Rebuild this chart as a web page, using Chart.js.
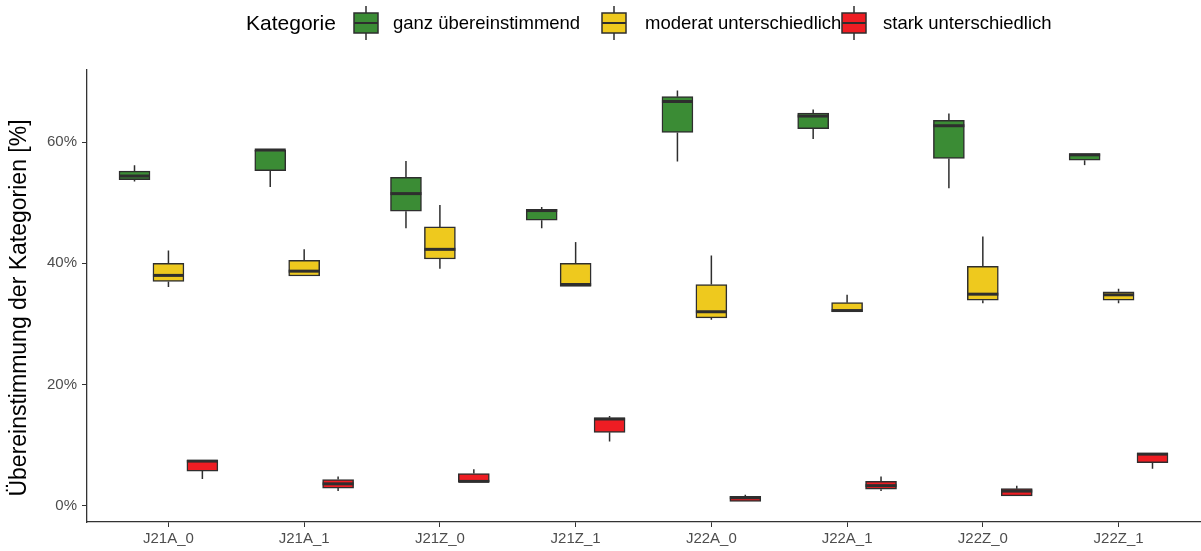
<!DOCTYPE html>
<html>
<head>
<meta charset="utf-8">
<script src="https://cdn.jsdelivr.net/npm/chart.js@4.4.1/dist/chart.umd.min.js"></script>
<style>
  html, body { margin: 0; padding: 0; background: #ffffff; }
  canvas { display: block; }
</style>
</head>
<body>
<canvas id="chart" width="1201" height="551"></canvas>
<script>
// Categories and tick labels
const categories = ['J21A_0', 'J21A_1', 'J21Z_0', 'J21Z_1', 'J22A_0', 'J22A_1', 'J22Z_0', 'J22Z_1'];
const seriesNames = ['ganz übereinstimmend', 'moderat unterschiedlich', 'stark unterschiedlich'];
const yTicks = [0, 20, 40, 60];
const yTitle = 'Übereinstimmung der Kategorien [%]';
const legendTitle = 'Kategorie';

// ganz übereinstimmend (%): five-number summaries per category
const ganzMin = [53.5, 52.6, 45.8, 45.8, 56.8, 60.5, 52.4, 56.2];
const ganzQ1  = [53.8, 55.3, 48.6, 47.1, 61.6, 62.2, 57.3, 57.0];
const ganzMed = [54.4, 58.7, 51.5, 48.7, 66.7, 64.3, 62.7, 57.9];
const ganzQ3  = [55.2, 58.7, 54.2, 48.9, 67.5, 64.8, 63.6, 58.1];
const ganzMax = [56.2, 58.7, 56.9, 49.3, 68.5, 65.4, 64.7, 58.1];

// moderat unterschiedlich (%)
const modMin = [36.1, 37.9, 39.1, 36.2, 30.7, 32.0, 33.4, 33.4];
const modQ1  = [37.0, 37.9, 40.7, 36.2, 31.0, 32.0, 33.9, 33.9];
const modMed = [38.0, 38.7, 42.3, 36.5, 32.0, 32.2, 34.9, 34.8];
const modQ3  = [40.0, 40.5, 46.0, 40.0, 36.5, 33.5, 39.5, 35.3];
const modMax = [42.1, 42.3, 49.6, 43.5, 41.3, 34.8, 44.4, 35.8];

// stark unterschiedlich (%)
const starkMin = [4.4, 2.4, 3.9, 10.6, 0.7, 2.4, 1.6, 6.1];
const starkQ1  = [5.7, 2.9, 3.9, 12.1, 0.7, 2.7, 1.6, 7.1];
const starkMed = [7.35, 3.6, 4.0, 14.3, 1.3, 3.3, 2.4, 8.5];
const starkQ3  = [7.46, 4.3, 5.3, 14.5, 1.55, 4.0, 2.8, 8.67];
const starkMax = [7.5, 4.8, 6.0, 14.8, 1.8, 4.8, 3.3, 8.7];

// Box statistics per series, in series order
const stats = [
  { min: ganzMin,  q1: ganzQ1,  med: ganzMed,  q3: ganzQ3,  max: ganzMax },
  { min: modMin,   q1: modQ1,   med: modMed,   q3: modQ3,   max: modMax },
  { min: starkMin, q1: starkQ1, med: starkMed, q3: starkQ3, max: starkMax }
];

const fills = ['#3b8c35', '#eec91e', '#ee1d23'];
const outline = '#2e2e2e';
const dodge = [-0.25, 0, 0.25];
const fontFamily = '"Liberation Sans", Arial, sans-serif';

const datasets = stats.map((s, k) => ({
  label: seriesNames[k],
  data: categories.map((c, i) => ({ x: i + dodge[k], y: [s.q1[i], s.q3[i]] })),
  backgroundColor: fills[k],
  borderColor: outline,
  borderWidth: 1.5,
  borderSkipped: false,
  barThickness: 31,
  grouped: false
}));

// Whiskers behind the boxes, medians on top
const boxplotParts = {
  id: 'boxplotParts',
  beforeDatasetsDraw(chart) {
    const ctx = chart.ctx, y = chart.scales.y;
    ctx.save();
    ctx.strokeStyle = outline;
    ctx.lineWidth = 1.5;
    chart.data.datasets.forEach((ds, k) => {
      const meta = chart.getDatasetMeta(k);
      meta.data.forEach((bar, i) => {
        const s = stats[k];
        ctx.beginPath();
        ctx.moveTo(bar.x, y.getPixelForValue(s.max[i]));
        ctx.lineTo(bar.x, y.getPixelForValue(s.q3[i]));
        ctx.moveTo(bar.x, y.getPixelForValue(s.q1[i]));
        ctx.lineTo(bar.x, y.getPixelForValue(s.min[i]));
        ctx.stroke();
      });
    });
    ctx.restore();
  },
  afterDatasetsDraw(chart) {
    const ctx = chart.ctx, y = chart.scales.y;
    ctx.save();
    ctx.strokeStyle = outline;
    ctx.lineWidth = 3;
    chart.data.datasets.forEach((ds, k) => {
      const meta = chart.getDatasetMeta(k);
      meta.data.forEach((bar, i) => {
        const py = y.getPixelForValue(stats[k].med[i]);
        const hw = bar.width / 2;
        ctx.beginPath();
        ctx.moveTo(bar.x - hw, py);
        ctx.lineTo(bar.x + hw, py);
        ctx.stroke();
      });
    });
    ctx.restore();
  }
};

// Rotated y-axis title, centred a little below the panel middle
const axisTitle = {
  id: 'axisTitle',
  afterDraw(chart) {
    const ctx = chart.ctx;
    ctx.save();
    ctx.translate(20, 308);
    ctx.rotate(-Math.PI / 2);
    ctx.fillStyle = '#000000';
    ctx.font = '23px ' + fontFamily;
    ctx.textAlign = 'center';
    ctx.textBaseline = 'middle';
    ctx.fillText(yTitle, 0, 0);
    ctx.restore();
  }
};

// Legend row with a box glyph for each series
const boxLegend = {
  id: 'boxLegend',
  afterDraw(chart) {
    const ctx = chart.ctx;
    const cy = 23;
    const keyCenters = [366, 614, 854];
    const textStarts = [393, 645, 883];
    ctx.save();
    ctx.fillStyle = '#000000';
    ctx.textBaseline = 'middle';
    ctx.textAlign = 'left';
    ctx.font = '21px ' + fontFamily;
    ctx.fillText(legendTitle, 246, cy + 1);
    seriesNames.forEach((name, k) => {
      const cx = keyCenters[k];
      ctx.strokeStyle = outline;
      ctx.lineWidth = 1.5;
      ctx.beginPath();
      ctx.moveTo(cx, cy - 17);
      ctx.lineTo(cx, cy + 17);
      ctx.stroke();
      ctx.fillStyle = fills[k];
      ctx.fillRect(cx - 12, cy - 10, 24, 20);
      ctx.strokeRect(cx - 12, cy - 10, 24, 20);
      ctx.lineWidth = 2;
      ctx.beginPath();
      ctx.moveTo(cx - 12, cy);
      ctx.lineTo(cx + 12, cy);
      ctx.stroke();
      ctx.fillStyle = '#000000';
      ctx.font = '18.5px ' + fontFamily;
      ctx.fillText(name, textStarts[k], cy + 1);
    });
    ctx.restore();
  }
};

new Chart(document.getElementById('chart'), {
  type: 'bar',
  data: { datasets },
  options: {
    responsive: false,
    devicePixelRatio: 1,
    animation: false,
    layout: { padding: { top: 70, right: 1, left: 0, bottom: 0 } },
    plugins: {
      legend: { display: false },
      tooltip: { enabled: false }
    },
    scales: {
      x: {
        type: 'linear',
        min: -0.6,
        max: 7.6,
        offset: false,
        afterBuildTicks(scale) {
          scale.ticks = categories.map((c, i) => ({ value: i }));
        },
        afterFit(scale) { scale.height = 29; },
        ticks: {
          callback: (v) => categories[v] ?? '',
          color: '#4d4d4d',
          font: { family: fontFamily, size: 15 },
          padding: 3,
          maxRotation: 0,
          autoSkip: false
        },
        grid: { display: true, drawOnChartArea: false, drawTicks: true, tickLength: 5, color: '#333333', offset: false },
        border: { display: true, color: '#333333', width: 1.3 }
      },
      y: {
        type: 'linear',
        min: -2.7,
        max: 71.9,
        afterBuildTicks(scale) {
          scale.ticks = yTicks.map(v => ({ value: v }));
        },
        afterFit(scale) { scale.width = 87; },
        ticks: {
          callback: (v) => v + '%',
          color: '#4d4d4d',
          font: { family: fontFamily, size: 15 },
          padding: 5
        },
        grid: { display: true, drawOnChartArea: false, drawTicks: true, tickLength: 5, color: '#333333' },
        border: { display: true, color: '#333333', width: 1.3 }
      }
    }
  },
  plugins: [boxplotParts, axisTitle, boxLegend]
});
</script>
</body>
</html>
